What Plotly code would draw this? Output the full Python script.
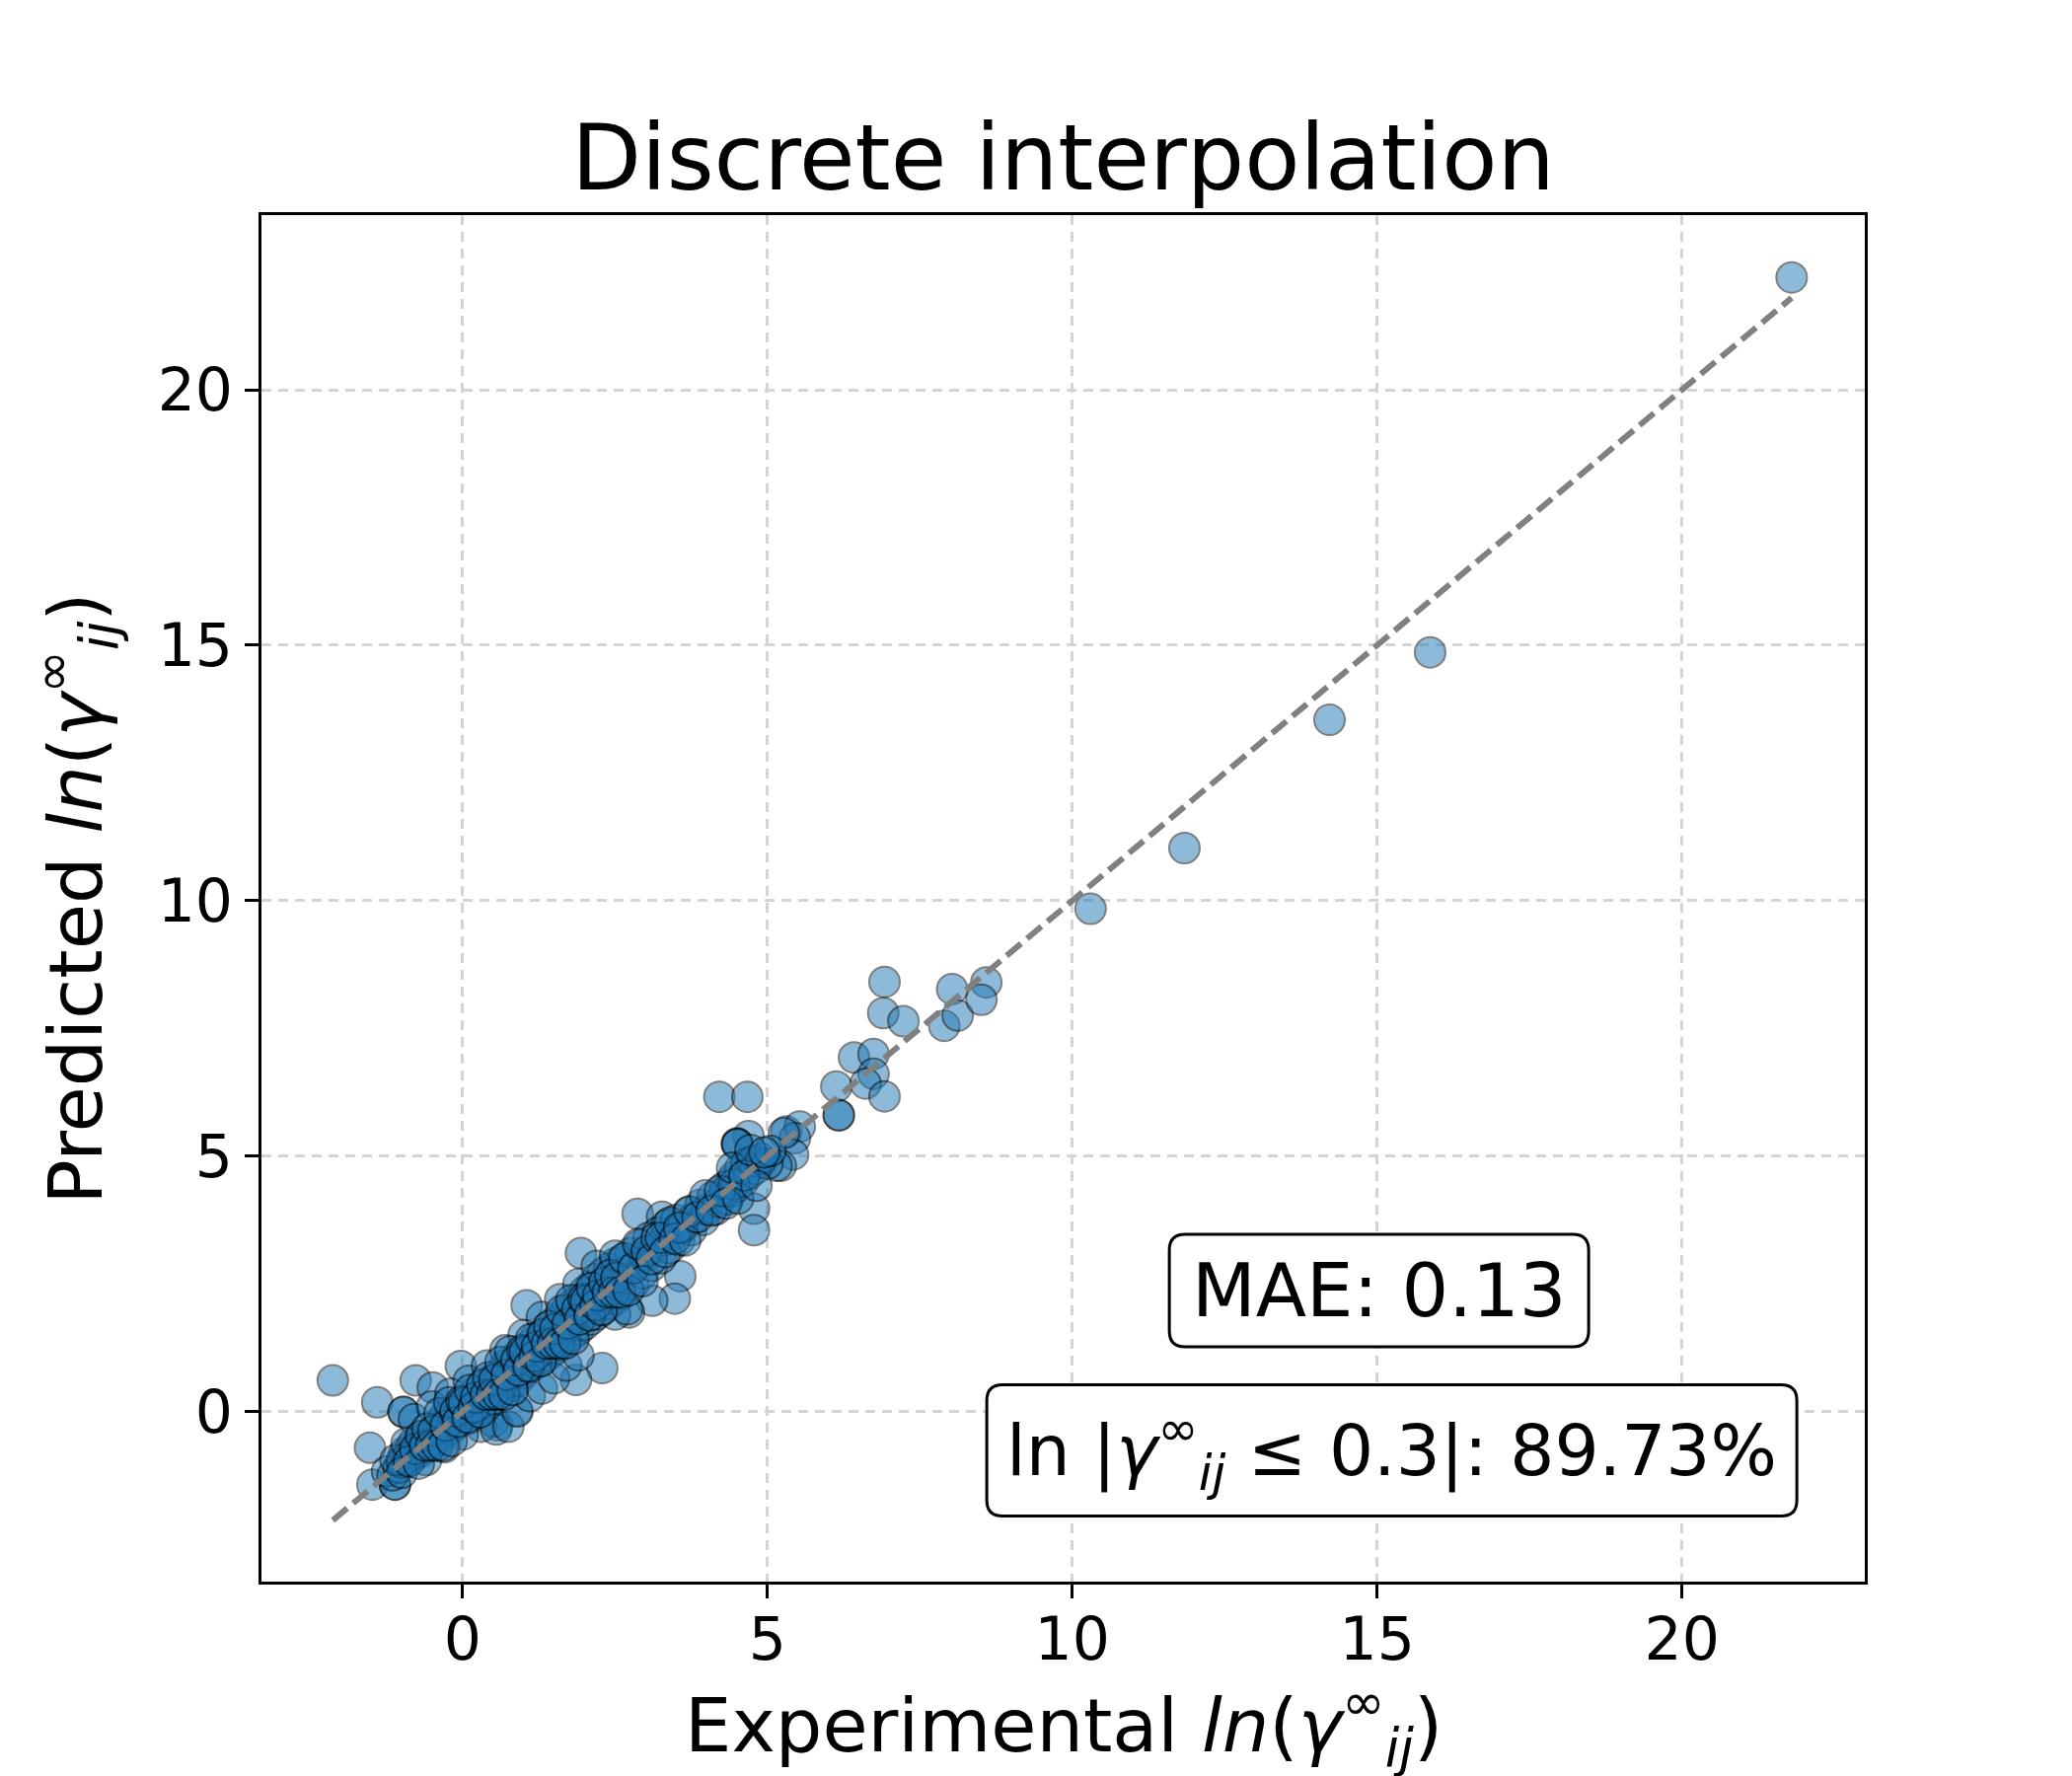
import plotly.graph_objects as go

# scattered points away from the main band
exp_outer = [21.8, 15.87, 14.22, 11.84, 10.30, 6.92, 8.03, 8.59, 6.90, 7.23, 7.90, 8.12, 8.51,
             6.42, 6.74, 6.74, 6.61, 6.92, 6.13, 6.17, 6.17, 4.21, 4.67, 4.78, 4.78, 4.69,
             4.50, 4.51, 4.50, 5.31, 5.53, 5.45, 5.42, 5.27, 5.22, 5.15, 4.72, 4.88, 4.40,
             -2.13, -1.40, -1.52, -1.48, -1.11, -1.11, -1.24, -0.97, -0.97, -0.77, -0.49,
             1.05, 1.94, 2.87, 3.27, 3.57, 3.48, 3.11, 2.73, 2.29, 1.86, 0.89, 0.57, -0.03]
pred_outer = [22.2, 14.86, 13.54, 11.03, 9.84, 8.41, 8.27, 8.40, 7.80, 7.64, 7.55, 7.75, 8.06,
              6.93, 7.00, 6.61, 6.42, 6.17, 6.36, 5.80, 5.80, 6.16, 6.16, 3.97, 3.55, 5.39,
              5.25, 5.24, 5.23, 5.48, 5.58, 5.35, 5.03, 5.45, 4.81, 4.81, 4.81, 4.87, 4.49,
              0.61, 0.18, -0.71, -1.43, -1.43, -1.43, -1.17, -0.01, -0.01, 0.61, 0.47,
              2.08, 3.10, 3.87, 3.81, 2.65, 2.21, 2.17, 1.94, 0.85, 0.62, 0.02, -0.27, 0.89]

# dense band along the diagonal
exp_band = [-1.15, -1.05, -1.0, -0.95, -0.9, -0.85, -0.8, -0.8, -0.75, -0.7, -0.7, -0.65, -0.6,
            -0.6, -0.55, -0.5, -0.5, -0.45, -0.4, -0.4, -0.35, -0.3, -0.3, -0.25, -0.2, -0.2,
            -0.15, -0.1, -0.1, -0.05, 0.0, 0.0, 0.05, 0.1, 0.1, 0.15, 0.2, 0.2, 0.25, 0.3,
            0.3, 0.35, 0.4, 0.4, 0.45, 0.5, 0.5, 0.5, 0.55, 0.6, 0.6, 0.65, 0.7, 0.7, 0.75,
            0.8, 0.8, 0.85, 0.9, 0.9, 0.95, 1.0, 1.0, 1.05, 1.1, 1.1, 1.15, 1.2, 1.2, 1.25,
            1.3, 1.3, 1.35, 1.4, 1.4, 1.45, 1.5, 1.5, 1.55, 1.6, 1.6, 1.65, 1.7, 1.7, 1.75,
            1.8, 1.8, 1.85, 1.9, 1.9, 1.95, 2.0, 2.0, 2.05, 2.1, 2.1, 2.15, 2.2, 2.2, 2.25,
            2.3, 2.3, 2.35, 2.4, 2.4, 2.45, 2.5, 2.5, 2.55, 2.6, 2.6, 2.7, 2.75, 2.8, 2.85,
            2.9, 2.95, 3.0, 3.05, 3.1, 3.15, 3.2, 3.25, 3.3, 3.35, 3.4, 3.45, 3.5, 3.55,
            3.6, 3.7, 3.75, 3.8, 3.9, 3.95, 4.0, 4.1, 4.15, 4.2, 4.3, 4.35, 4.4, 4.45, 4.5,
            4.55, 4.6, 4.65, 4.7, 4.75, 4.8, 4.9, 5.0, 5.05,
            0.3, 0.55, 0.75, 0.9, 1.1, 1.3, 1.5, 1.7, 1.9, 0.0, -0.3, -0.6,
            -0.8, -0.5, -0.2, 0.1, 0.4, 0.7, 1.0, 1.3, 1.6, 1.9, 2.2, 2.5,
            2.5, 2.7, 2.0, 1.2, 0.6, -0.9, -1.0, 3.6, 4.3, 4.45]
pred_band = [-1.25, -1.1, -0.95, -0.8, -0.95, -0.7, -0.85, -0.6, -0.75, -0.55, -0.8, -0.65, -0.45,
             -0.7, -0.55, -0.4, -0.65, -0.5, -0.3, -0.55, -0.2, -0.4, -0.1, -0.3, -0.05, -0.35,
             -0.15, 0.05, -0.25, 0.1, -0.1, 0.2, 0.0, 0.25, -0.15, 0.1, 0.35, -0.05, 0.2, 0.45,
             0.05, 0.3, 0.55, 0.15, 0.35, 0.65, 0.25, -0.2, 0.45, 0.75, 0.35, 0.55, 0.9, 0.45, 0.65,
             1.0, 0.55, 0.8, 1.1, 0.6, 0.9, 1.2, 0.75, 1.0, 1.3, 0.85, 1.1, 1.45, 0.95, 1.2,
             1.5, 1.0, 1.3, 1.65, 1.1, 1.4, 1.75, 1.2, 1.5, 1.85, 1.3, 1.6, 2.0, 1.4, 1.7,
             2.1, 1.5, 1.85, 2.2, 1.6, 1.95, 2.35, 1.7, 2.0, 2.45, 1.8, 2.15, 2.6, 1.9, 2.25,
             2.7, 2.0, 2.35, 2.8, 2.1, 2.45, 2.9, 2.2, 2.55, 2.95, 2.3, 2.75, 3.1, 2.5, 2.9,
             3.25, 2.7, 3.05, 3.4, 2.85, 3.2, 3.5, 3.0, 3.35, 3.65, 3.2, 3.45, 3.75, 3.35,
             3.6, 3.9, 3.55, 3.8, 4.05, 3.75, 3.95, 4.2, 3.95, 4.1, 4.4, 4.15, 4.3, 4.6, 4.4,
             4.75, 4.5, 4.85, 4.65, 4.9, 4.75, 4.95, 4.85, 5.1,
             -0.3, -0.35, -0.3, 0.0, 0.3, 0.45, 0.65, 0.9, 1.1, -0.45, -0.7, -0.95,
             -0.15, 0.1, 0.35, 0.6, 0.9, 1.2, 1.5, 1.85, 2.2, 2.5, 2.85, 3.05,
             1.9, 2.0, 2.05, 1.25, 0.6, -0.9, -1.0, 3.6, 4.3, 4.45]

# core of the band, where the markers pile up
exp_core = [-1.1, -1.0, -0.92, -0.88, -0.78, -0.72, -0.68, -0.62, -0.58, -0.52, -0.48, -0.42,
            -0.38, -0.32, -0.28, -0.22, -0.18, -0.12, -0.08, -0.02, 0.02, 0.08, 0.12, 0.18,
            0.22, 0.28, 0.32, 0.38, 0.42, 0.48, 0.52, 0.58, 0.62, 0.68, 0.72, 0.78, 0.82,
            0.88, 0.92, 0.98, 1.02, 1.08, 1.12, 1.18, 1.22, 1.28, 1.32, 1.38, 1.42, 1.48,
            1.52, 1.58, 1.62, 1.68, 1.72, 1.78, 1.82, 1.88, 1.92, 1.98, 2.02, 2.08, 2.12,
            2.18, 2.22, 2.28, 2.32, 2.38, 2.42, 2.48, 2.52, 2.58, 2.65, 2.72, 2.8, 2.88,
            2.95, 3.02, 3.1, 3.18, 3.25, 3.32, 3.4, 3.48, 3.55, 3.65, 3.72, 3.85, 3.98,
            4.08, 4.22, 4.32, 4.42, 4.52, 4.62, 4.72, 4.82, 4.95]
pred_core = [-0.95, -1.2, -0.62, -0.98, -0.73, -1.02, -0.48, -0.67, -0.33, -0.67, -0.38, -0.67,
             -0.03, -0.67, -0.28, 0.18, -0.58, 0.0, -0.2, 0.2, 0.17, -0.12, 0.42, 0.08,
             0.27, -0.02, 0.52, 0.33, 0.67, 0.33, 0.62, 0.33, 0.97, 0.33, 0.72, 1.18, 0.42,
             1.0, 0.8, 1.2, 1.17, 0.88, 1.42, 1.08, 1.27, 0.98, 1.52, 1.33, 1.67, 1.33,
             1.62, 1.33, 1.97, 1.33, 1.72, 2.18, 1.42, 2.0, 1.8, 2.2, 2.17, 1.88, 2.42,
             2.08, 2.27, 1.98, 2.52, 2.33, 2.67, 2.33, 2.62, 2.33, 3.0, 2.37, 2.8, 3.28,
             2.55, 3.14, 2.98, 3.4, 3.4, 3.12, 3.7, 3.38, 3.6, 3.35, 3.92, 3.8, 4.23,
             3.93, 4.32, 4.07, 4.77, 4.17, 4.62, 5.12, 4.42, 5.07]

experimental = exp_outer + exp_band + exp_core
predicted = pred_outer + pred_band + pred_core

mae_text = "MAE: 0.13"
frac_text = "ln |<i>γ</i><sup>∞</sup><sub><i>ij</i></sub> ≤ 0.3|: 89.73%"
x_title = "Experimental <i>ln</i>(<i>γ</i><sup>∞</sup><sub><i>ij</i></sub>)"
y_title = "Predicted <i>ln</i>(<i>γ</i><sup>∞</sup><sub><i>ij</i></sub>)"

FONT = "DejaVu Sans"

fig = go.Figure()

fig.add_trace(go.Scatter(
    x=experimental, y=predicted, mode="markers",
    marker=dict(size=31, color="#1f77b4", opacity=0.5, line=dict(color="black", width=2)),
    showlegend=False,
))

# y = x reference line over the experimental span
lo, hi = min(experimental), max(experimental)
fig.add_trace(go.Scatter(
    x=[lo, hi], y=[lo, hi], mode="lines",
    line=dict(color="grey", width=6, dash="19px,8px"),
    showlegend=False,
))


def rounded_box(w, h, r):
    a, b = w / 2, h / 2
    return (f"M {-a + r},{-b} L {a - r},{-b} Q {a},{-b} {a},{-b + r} "
            f"L {a},{b - r} Q {a},{b} {a - r},{b} L {-a + r},{b} Q {-a},{b} {-a},{b - r} "
            f"L {-a},{-b + r} Q {-a},{-b} {-a + r},{-b} Z")


boxes = [(mae_text, 0.697, 0.213, 425, 114, 75), (frac_text, 0.705, 0.096, 821, 133, 71)]
for txt, bx, by, bw, bh, fs in boxes:
    fig.add_shape(type="path", xref="paper", yref="paper", xsizemode="pixel", ysizemode="pixel",
                  xanchor=bx, yanchor=by, path=rounded_box(bw, bh, 16),
                  fillcolor="white", line=dict(color="black", width=3), layer="above")
    fig.add_annotation(text=txt, xref="paper", yref="paper", x=bx, y=by,
                       xanchor="center", yanchor="middle", showarrow=False,
                       font=dict(family=FONT, size=fs, color="black"))

# x axis title as an annotation so its subscript stays inside the page
fig.add_annotation(text=x_title, xref="paper", yref="paper", x=0.5, y=-0.145,
                   xanchor="center", yanchor="bottom", showarrow=False,
                   font=dict(family=FONT, size=75, color="black"))

axis_common = dict(
    showline=True, linecolor="black", linewidth=3, mirror=True,
    ticks="outside", ticklen=14, tickwidth=3, tickcolor="black",
    tickfont=dict(family=FONT, size=60, color="black"),
    showgrid=True, gridcolor="#d4d4d4", gridwidth=2.5, griddash="10px,7px",
    zeroline=False, tickmode="array", tickvals=[0, 5, 10, 15, 20],
)

fig.update_layout(
    width=2100, height=1800,
    margin=dict(l=257, r=218, t=210, b=205),
    paper_bgcolor="white", plot_bgcolor="white",
    title=dict(text="Discrete interpolation", x=0.5, xref="paper", y=1 - 152 / 1800,
               yref="container", xanchor="center", yanchor="middle",
               font=dict(family=FONT, size=92, color="black")),
    xaxis=dict(axis_common, range=[-3.3, 23.0], ticklabelstandoff=-10),
    yaxis=dict(axis_common, range=[-3.33, 23.42],
               title=dict(text=y_title, font=dict(family=FONT, size=75, color="black"),
                          standoff=32)),
)

fig.write_html("out.html")
